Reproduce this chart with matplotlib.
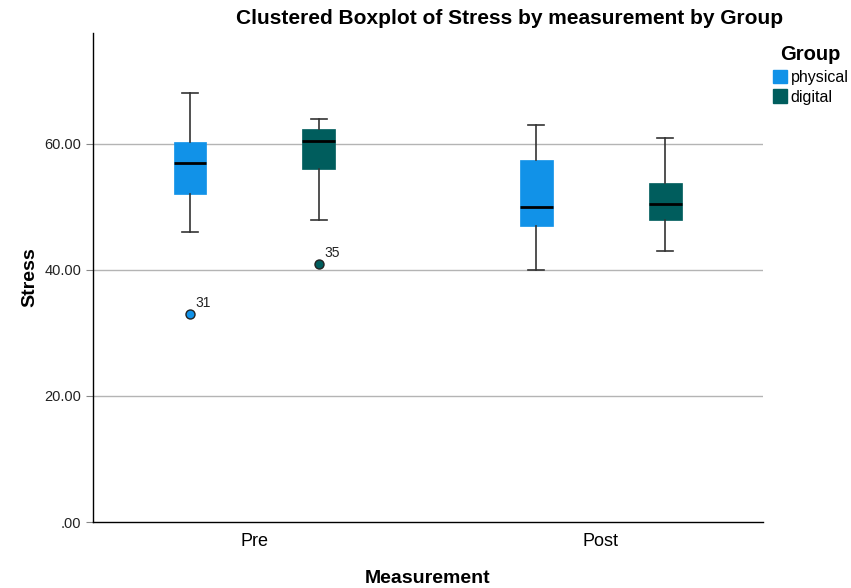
import matplotlib.pyplot as plt
from matplotlib.patches import Patch

plt.rcParams['font.family'] = ['Liberation Sans', 'DejaVu Sans']

measurements = ["Pre", "Post"]
groups = ["physical", "digital"]
colors = ["#1192E8", "#005D5D"]

# five-number summaries per measurement, per group: low whisker, Q1, median, Q3, high whisker
physical_stats = [[46, 52, 57, 60.3, 68], [40, 47, 50, 57.5, 63]]
digital_stats = [[48, 56, 60.5, 62.4, 64], [43, 48, 50.5, 53.8, 61]]
# outliers: (measurement index, value, case label)
physical_out = [(0, 33, "31")]
digital_out = [(0, 41, "35")]

fig = plt.figure(figsize=(8.51, 5.88), dpi=100)
ax = fig.add_axes([93 / 851, 1 - 522 / 588, 670 / 851, 489 / 588])

offset = 0.186
width = 0.095
for gi, (stats, outs) in enumerate([(physical_stats, physical_out), (digital_stats, digital_out)]):
    bx = []
    for mi, s in enumerate(stats):
        fl = [v for (m, v, _) in outs if m == mi]
        bx.append(dict(whislo=s[0], q1=s[1], med=s[2], q3=s[3], whishi=s[4], fliers=fl))
    pos = [i + (offset if gi else -offset) for i in range(len(measurements))]
    ax.bxp(bx, positions=pos, widths=width, patch_artist=True, manage_ticks=False,
           boxprops=dict(facecolor=colors[gi], edgecolor=colors[gi], linewidth=0.5),
           medianprops=dict(color="black", linewidth=2),
           whiskerprops=dict(color="#333333", linewidth=1.2),
           capprops=dict(color="#333333", linewidth=1.2),
           capwidths=0.046,
           flierprops=dict(marker="o", markerfacecolor=colors[gi], markeredgecolor="#222222",
                           markersize=6.5, markeredgewidth=1),
           zorder=3)
    for (m, v, lab) in outs:
        ax.annotate(lab, (pos[m], v), xytext=(4, 5), textcoords="offset points",
                    fontsize=10, color="#222222")

ax.set_xlim(-0.466, 1.468)
ax.set_ylim(0, 77.6)
ax.set_xticks(range(len(measurements)))
ax.set_xticklabels(measurements, fontsize=13)
ax.set_yticks([0, 20, 40, 60])
ax.set_yticklabels([".00", "20.00", "40.00", "60.00"], fontsize=10.5, color="#222222")
for yv in [20, 40, 60]:
    ax.axhline(yv, color="#b4b4b4", linewidth=1, zorder=1)
ax.tick_params(axis="x", length=0, pad=8)
ax.tick_params(axis="y", length=5, color="#888888")
for sp in ["top", "right"]:
    ax.spines[sp].set_visible(False)
ax.spines["left"].set_linewidth(1)
ax.spines["bottom"].set_linewidth(1)

ax.set_xlabel("Measurement", fontsize=14, fontweight="bold", labelpad=14)
ax.set_ylabel("Stress", fontsize=14, fontweight="bold", labelpad=4)
fig.text(510 / 851, 1 - 19 / 588, "Clustered Boxplot of Stress by measurement by Group",
         ha="center", va="center", fontsize=15, fontweight="bold")

handles = [Patch(facecolor=c, edgecolor=c) for c in colors]
fig.legend(handles, groups, title="Group", loc="upper left", bbox_to_anchor=(765 / 851, 1 - 37 / 588),
           frameon=False, fontsize=11.5, handlelength=0.9, handleheight=0.9, handletextpad=0.2,
           labelspacing=0.3, borderpad=0, title_fontproperties=dict(weight="bold", size=14.5))
fig.legends[0]._legend_box.sep = 4

fig.savefig("out.png", dpi=100)
